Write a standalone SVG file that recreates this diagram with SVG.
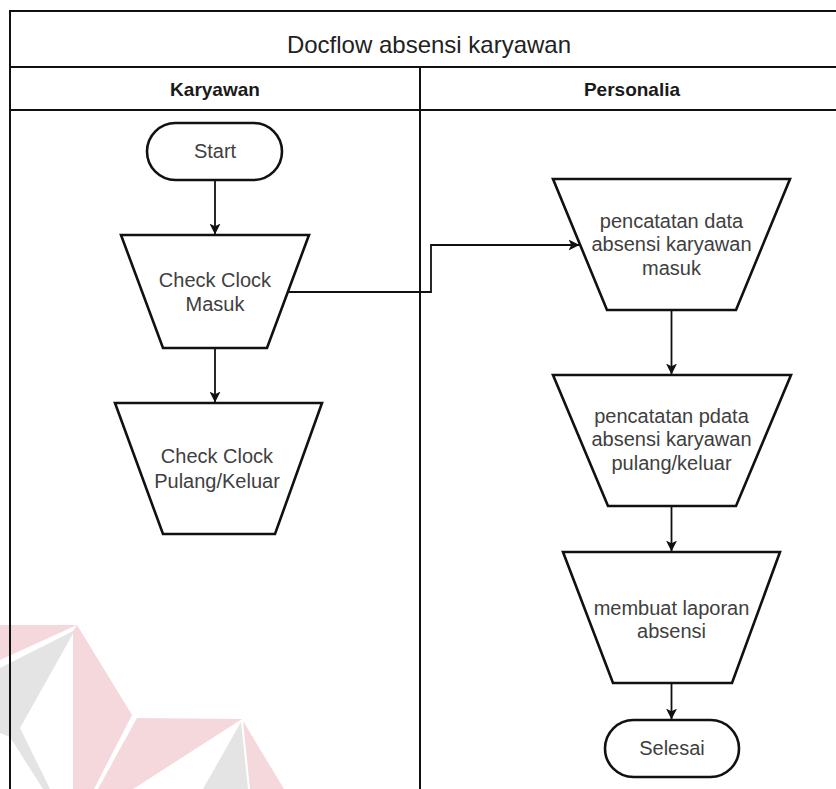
<svg xmlns="http://www.w3.org/2000/svg" width="836" height="789" viewBox="0 0 836 789">
  <style>
    .frame { fill: none; stroke: #111; stroke-width: 2; }
    .shape { fill: #fff; stroke: #111; stroke-width: 2.6; stroke-linejoin: miter; }
    .edge { fill: none; stroke: #111; stroke-width: 1.8; }
    .lbl { font-family: "Liberation Sans", Arial, sans-serif; font-size: 20px; fill: #404040; text-anchor: middle; }
    .hdr { font-family: "Liberation Sans", Arial, sans-serif; font-size: 19px; font-weight: bold; fill: #1a1a1a; text-anchor: middle; }
    .ttl { font-family: "Liberation Sans", Arial, sans-serif; font-size: 24px; fill: #222; text-anchor: middle; }
    .wm-pink { fill: #f4d8db; }
    .wm-gray { fill: #e4e4e4; }
  </style>
  <defs>
    <marker id="arrow" viewBox="0 0 10 10" refX="9.5" refY="5" markerWidth="11" markerHeight="11" orient="auto" markerUnits="userSpaceOnUse">
      <path d="M0,0 L10,5 L0,10 L2.5,5 z" fill="#111"/>
    </marker>
  </defs>

  <rect width="836" height="789" fill="#fff"/>

  <!-- faint logo in the lower left corner -->
  <g id="logo">
    <polygon class="wm-pink" points="0,625 77,625 0,660"/>
    <polygon class="wm-gray" points="75,630 0,668 0,733 10,737 43,789 50,789 20,728"/>
    <polygon class="wm-pink" points="77,625 132,715 94,789 73,789 73,631"/>
    <polygon class="wm-pink" points="137,718 242,719 133,789 98,789"/>
    <polygon class="wm-gray" points="241,722 203,789 248,789"/>
    <polygon class="wm-pink" points="243,721 284,789 250,789"/>
  </g>

  <!-- pool frame with title and two lanes -->
  <g id="pool">
    <path class="frame" d="M10,800 V11 H846 M10,67 H846 M10,110 H846 M420,67 V800"/>
    <text class="ttl" x="429" y="53">Docflow absensi karyawan</text>
    <text class="hdr" x="215" y="96">Karyawan</text>
    <text class="hdr" x="632" y="96">Personalia</text>
  </g>

  <!-- connectors -->
  <g id="connectors">
    <path class="edge" d="M215,180 V234" marker-end="url(#arrow)"/>
    <path class="edge" d="M215,348 V402" marker-end="url(#arrow)"/>
    <path class="edge" d="M288,292 H431 V245 H579" marker-end="url(#arrow)"/>
    <path class="edge" d="M671.5,310 V374" marker-end="url(#arrow)"/>
    <path class="edge" d="M671.5,506 V551" marker-end="url(#arrow)"/>
    <path class="edge" d="M671.5,683 V719" marker-end="url(#arrow)"/>
  </g>

  <g id="start">
    <rect class="shape" x="147" y="123" width="135" height="57" rx="28.5" ry="28.5"/>
    <text class="lbl" x="215" y="158">Start</text>
  </g>

  <g id="check-masuk">
    <polygon class="shape" points="121,235 309,235 267,348 163,348"/>
    <text class="lbl" x="215" y="287">Check Clock</text>
    <text class="lbl" x="215" y="311">Masuk</text>
  </g>

  <g id="check-pulang">
    <polygon class="shape" points="115,403 322,403 275,534 163,534"/>
    <text class="lbl" x="217" y="463">Check Clock</text>
    <text class="lbl" x="217" y="488">Pulang/Keluar</text>
  </g>

  <g id="catat-masuk">
    <polygon class="shape" points="553,179 790,179 736,310 607,310"/>
    <text class="lbl" x="671.5" y="228">pencatatan data</text>
    <text class="lbl" x="671.5" y="251">absensi karyawan</text>
    <text class="lbl" x="671.5" y="275">masuk</text>
  </g>

  <g id="catat-pulang">
    <polygon class="shape" points="553,375 791,375 736,506 608,506"/>
    <text class="lbl" x="671.5" y="423">pencatatan pdata</text>
    <text class="lbl" x="671.5" y="446">absensi karyawan</text>
    <text class="lbl" x="671.5" y="470">pulang/keluar</text>
  </g>

  <g id="laporan">
    <polygon class="shape" points="563,552 780,552 732,683 613,683"/>
    <text class="lbl" x="671.5" y="615">membuat laporan</text>
    <text class="lbl" x="671.5" y="638">absensi</text>
  </g>

  <g id="selesai">
    <rect class="shape" x="605" y="720" width="134" height="57" rx="28.5" ry="28.5"/>
    <text class="lbl" x="672" y="755">Selesai</text>
  </g>
</svg>
